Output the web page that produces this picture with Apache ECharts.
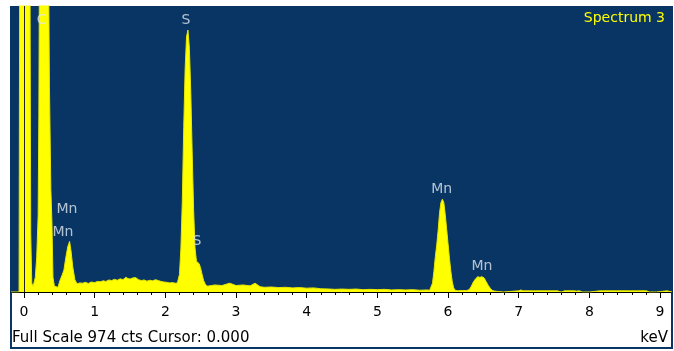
<!DOCTYPE html>
<html>
<head>
<meta charset="utf-8">
<script src="https://cdn.jsdelivr.net/npm/echarts@6/dist/echarts.min.js"></script>
<style>
    html, body { margin: 0; padding: 0; background: #fff; }
    #J_chart { width: 674px; height: 351px; }
</style>
</head>
<body>
<div id="J_chart"></div>
<script>
const FULL_SCALE = 974;
const CURSOR = 0;
const SPECTRUM_NAME = 'Spectrum 3';

// 能量 (keV) / 计数
const KEV = [
    -0.184, -0.07, -0.058, 0.08, 0.095, 0.11, 0.13, 0.145,
    0.16, 0.18, 0.20, 0.21, 0.225, 0.28, 0.335, 0.36, 0.38, 0.395, 0.41, 0.43,
    0.45, 0.48, 0.51, 0.54, 0.565, 0.59, 0.62, 0.645, 0.665, 0.69, 0.72, 0.75, 0.79,
    0.83, 0.87, 0.91, 0.95, 1.0, 1.04, 1.08, 1.12, 1.16, 1.2, 1.24, 1.28, 1.32, 1.36,
    1.40, 1.44, 1.47, 1.50, 1.54, 1.58, 1.62, 1.66, 1.70, 1.74, 1.78, 1.82, 1.86,
    1.90, 1.94, 1.98, 2.02, 2.06, 2.10, 2.14, 2.17,
    2.18, 2.20, 2.22, 2.24, 2.26, 2.28, 2.30, 2.32, 2.34, 2.36, 2.38, 2.40, 2.42,
    2.44, 2.46, 2.48, 2.50, 2.52, 2.54, 2.57, 2.60,
    2.65, 2.7, 2.8, 2.91, 3.0, 3.1, 3.2, 3.27, 3.34, 3.4, 3.5, 3.6, 3.7, 3.8, 3.9,
    4.0, 4.1, 4.2, 4.33, 4.4, 4.5, 4.6, 4.7, 4.8, 4.9, 5.0, 5.1, 5.2, 5.3, 5.4,
    5.5, 5.6, 5.7,
    5.74, 5.76, 5.78, 5.80, 5.82, 5.84, 5.86, 5.88, 5.90, 5.92, 5.94, 5.96, 5.98,
    6.00, 6.02, 6.04, 6.06, 6.08, 6.10, 6.14, 6.2,
    6.26, 6.30, 6.33, 6.36, 6.39, 6.42, 6.45, 6.48, 6.51, 6.54, 6.57, 6.60, 6.63,
    6.66, 6.7, 6.72, 6.78,
    6.80, 7.0, 7.03, 7.06, 7.2, 7.22, 7.24, 7.3, 7.32, 7.47, 7.55, 7.6, 7.65, 7.79,
    7.82, 7.86, 7.9, 8.0, 8.01, 8.15, 8.17, 8.19, 8.36, 8.39, 8.57, 8.58, 8.6, 8.64,
    8.66, 8.68, 8.81, 8.85, 8.95, 8.97, 9.10, 9.12, 9.169
];
const COUNTS = [
    0, 0, 1500, 1500, 200, 30, 20, 20,
    50, 120, 260, 600, 1500, 3000, 1500, 700, 350, 240, 50, 20,
    14, 16, 40, 58, 75, 115, 155, 172, 140, 85, 42, 28, 31,
    30, 33, 29, 34, 32, 36, 35, 38, 36, 41, 39, 43, 40, 45,
    42, 50, 46, 44, 48, 49, 42, 39, 41, 37, 40, 38, 42,
    39, 36, 34, 33, 31, 32, 30, 31,
    30, 60, 150, 310, 560, 760, 870, 892, 830, 680, 470, 280, 150,
    105, 100, 96, 80, 60, 40, 24, 20,
    22, 24, 22, 30, 22, 24, 21, 30, 18, 16, 17, 15, 16, 14, 15,
    13, 14, 11, 10, 9, 10, 9, 10, 8, 9, 8, 9, 7, 8, 7,
    8, 6, 7,
    6, 12, 30, 70, 120, 160, 210, 270, 305, 316, 305, 265, 215,
    165, 115, 70, 35, 14, 6, 4, 5,
    5, 8, 20, 35, 45, 52, 50, 52, 48, 35, 22, 12, 5,
    3, 2, 0, 0,
    4, 4, 7, 4, 4, 0, 4, 4, 0, 4, 4, 0, 4, 4,
    3, 4, 0, 0, 4, 4, 0, 4, 4, 4, 4, 0, 4, 4,
    0, 4, 4, 0, 0, 4, 4, 0, 0
];

// 峰标注
const PEAK_NAMES = ['C', 'S', 'S', 'Mn', 'Mn', 'Mn', 'Mn'];
const PEAK_KEV = [0.25, 2.29, 2.447, 0.608, 0.552, 5.91, 6.48];
const PEAK_CTS = [926, 926, 174, 283, 204, 351, 89];

const MAJOR_TICKS = [0, 1, 2, 3, 4, 5, 6, 7, 8, 9];
const MINOR_TICKS = [0.2, 0.4, 0.6, 0.8, 1.2, 1.4, 1.6, 1.8, 2.2, 2.4, 2.6, 2.8,
    3.2, 3.4, 3.6, 3.8, 4.2, 4.4, 4.6, 4.8, 5.2, 5.4, 5.6, 5.8, 6.2, 6.4, 6.6, 6.8,
    7.2, 7.4, 7.6, 7.8, 8.2, 8.4, 8.6, 8.8];

const BG = '#083563';
const X_MIN = -0.184;
const X_MAX = 9.169;

let chart = echarts.init(document.getElementById('J_chart'), null, {renderer: 'canvas'});

let options = {
    animation: false,
    backgroundColor: '#fff',
    grid: {
        left: 11,
        top: 6,
        width: 661,
        height: 286,
        show: true,
        backgroundColor: BG,
        borderWidth: 0
    },
    xAxis: [{
        type: 'value',
        min: X_MIN,
        max: X_MAX,
        position: 'bottom',
        axisLine: {
            show: true,
            onZero: false,
            lineStyle: {color: '#000', width: 1}
        },
        axisTick: {
            show: true,
            customValues: MAJOR_TICKS,
            length: 6,
            lineStyle: {color: '#000', width: 1}
        },
        axisLabel: {
            show: true,
            customValues: MAJOR_TICKS,
            margin: 13,
            fontSize: 14,
            fontFamily: 'DejaVu Sans',
            color: '#000'
        },
        splitLine: {show: false}
    }, {
        type: 'value',
        min: X_MIN,
        max: X_MAX,
        position: 'bottom',
        offset: 0,
        axisLine: {show: false},
        axisTick: {
            show: true,
            customValues: MINOR_TICKS,
            length: 3,
            lineStyle: {color: '#000', width: 1}
        },
        axisLabel: {show: false},
        splitLine: {show: false}
    }],
    yAxis: {
        type: 'value',
        min: 0,
        max: FULL_SCALE,
        show: false
    },
    graphic: [{
        type: 'rect',
        z: -10,
        shape: {x: 11, y: 7, width: 661, height: 341},
        style: {fill: '#fff', stroke: BG, lineWidth: 2}
    }, {
        type: 'text',
        right: 9,
        top: 11,
        style: {
            text: SPECTRUM_NAME,
            fill: '#ffff00',
            font: '14px "DejaVu Sans"'
        }
    }, {
        type: 'text',
        left: 12,
        top: 331,
        style: {
            text: 'Full Scale ' + FULL_SCALE + ' cts Cursor: ' + CURSOR.toFixed(3),
            fill: '#000',
            font: '15px "DejaVu Sans"'
        }
    }, {
        type: 'text',
        right: 6,
        top: 331,
        style: {
            text: 'keV',
            fill: '#000',
            font: '15px "DejaVu Sans"'
        }
    }],
    series: [{
        type: 'line',
        xAxisIndex: 0,
        z: 2,
        symbol: 'none',
        clip: true,
        lineStyle: {color: '#e6e600', width: 1},
        areaStyle: {color: '#ffff00', opacity: 1},
        data: KEV.map((k, i) => [k, COUNTS[i]]),
        markLine: {
            silent: true,
            symbol: ['none', 'none'],
            label: {show: false},
            lineStyle: {color: '#222', width: 1, type: 'solid'},
            data: [{xAxis: CURSOR}]
        }
    }, {
        type: 'scatter',
        xAxisIndex: 0,
        z: 10,
        zlevel: 1,
        symbolSize: 0,
        label: {
            show: true,
            position: 'inside',
            color: '#dfe6ef',
            fontSize: 14,
            fontFamily: 'DejaVu Sans',
            formatter: p => p.data.name
        },
        data: PEAK_NAMES.map((n, i) => ({name: n, value: [PEAK_KEV[i], PEAK_CTS[i]]}))
    }]
};

chart.setOption(options);
</script>
</body>
</html>
